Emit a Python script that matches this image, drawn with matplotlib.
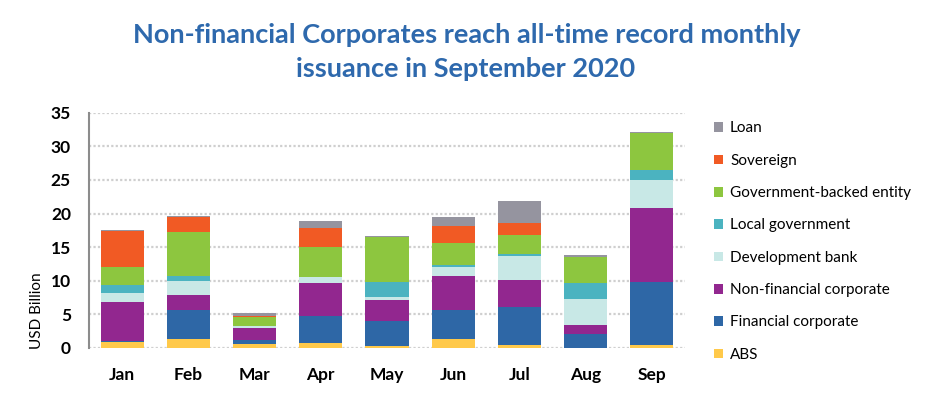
import matplotlib
matplotlib.use("Agg")
import matplotlib.pyplot as plt
import numpy as np

months = ["Jan", "Feb", "Mar", "Apr", "May", "Jun", "Jul", "Aug", "Sep"]
series_names = ["ABS", "Financial corporate", "Non-financial corporate", "Development bank",
                "Local government", "Government-backed entity", "Sovereign", "Loan"]
abs_v      = [0.84, 1.29, 0.55, 0.70, 0.25, 1.29, 0.40, 0.05, 0.40]
fin_corp   = [0.15, 4.32, 0.60, 4.02, 3.72, 4.32, 5.66, 2.05, 9.38]
nonfin     = [5.81, 2.23, 1.79, 4.92, 3.13, 5.06, 4.02, 1.29, 11.02]
dev_bank   = [1.34, 2.09, 0.30, 0.89, 0.45, 1.34, 3.57, 3.87, 4.17]
local_gov  = [1.19, 0.79, 0.05, 0.05, 2.23, 0.30, 0.30, 2.38, 1.54]
gov_backed = [2.68, 6.50, 1.34, 4.47, 6.70, 3.28, 2.83, 3.87, 5.51]
sovereign  = [5.36, 2.23, 0.20, 2.83, 0.05, 2.53, 1.79, 0.00, 0.00]
loan       = [0.15, 0.15, 0.40, 1.04, 0.15, 1.34, 3.28, 0.30, 0.15]
yticks = [0, 5, 10, 15, 20, 25, 30, 35]

series = [abs_v, fin_corp, nonfin, dev_bank, local_gov, gov_backed, sovereign, loan]
colors = ["#FFC94A", "#2E67A6", "#92278F", "#C8E8E6", "#4BB3C0", "#8DC63F", "#F15A24", "#95949F"]

plt.rcParams['font.family'] = ['Lato', 'DejaVu Sans']

fig = plt.figure(figsize=(9.34, 3.96), dpi=100)
W, H = 934, 396
ax = fig.add_axes([89 / W, 1 - 348 / H, (685 - 89) / W, (348 - 112.7) / H])

x = np.arange(len(months))
bottom = np.zeros(len(months))
handles = []
for vals, c, name in zip(series, colors, series_names):
    b = ax.bar(x, vals, bottom=bottom, width=0.65, color=c, label=name, zorder=3)
    handles.append(b)
    bottom += np.array(vals)

ax.set_xlim(-0.5, len(months) - 0.5)
ax.set_ylim(0, 35)
ax.set_yticks(yticks)
ax.set_yticklabels([str(t) for t in yticks], fontsize=12.5, fontweight='bold')
ax.set_xticks(x)
ax.set_xticklabels(months, fontsize=12.5, fontweight='bold')
ax.tick_params(axis='both', length=0)
ax.tick_params(axis='y', pad=13)
ax.tick_params(axis='x', pad=14)
ax.yaxis.grid(True, color='#CFCFCF', linestyle=(0, (1, 1)), linewidth=1.6, zorder=0)
for s in ['top', 'right', 'bottom']:
    ax.spines[s].set_visible(False)
ax.spines['left'].set_color('#8C8C8C')
ax.spines['left'].set_linewidth(1.5)

fig.text(37 / W, 1 - 311 / H, "USD Billion", rotation=90, ha='center', va='center', fontsize=11)

fig.text(467 / W, 1 - 35 / H, "Non-financial Corporates reach all-time record monthly",
         ha='center', va='center', fontsize=19.5, fontweight='bold', color='#2E69AD')
fig.text(466 / W, 1 - 69 / H, "issuance in September 2020",
         ha='center', va='center', fontsize=19.5, fontweight='bold', color='#2E69AD')

leg = fig.legend(handles[::-1], series_names[::-1], loc='upper left',
                 bbox_to_anchor=(714 / W, 1 - 121.5 / H), frameon=False, fontsize=11,
                 handlelength=0.6, handleheight=0.6, handletextpad=0.45, labelspacing=1.2,
                 borderaxespad=0, borderpad=0)

fig.savefig("out.png", dpi=100)
